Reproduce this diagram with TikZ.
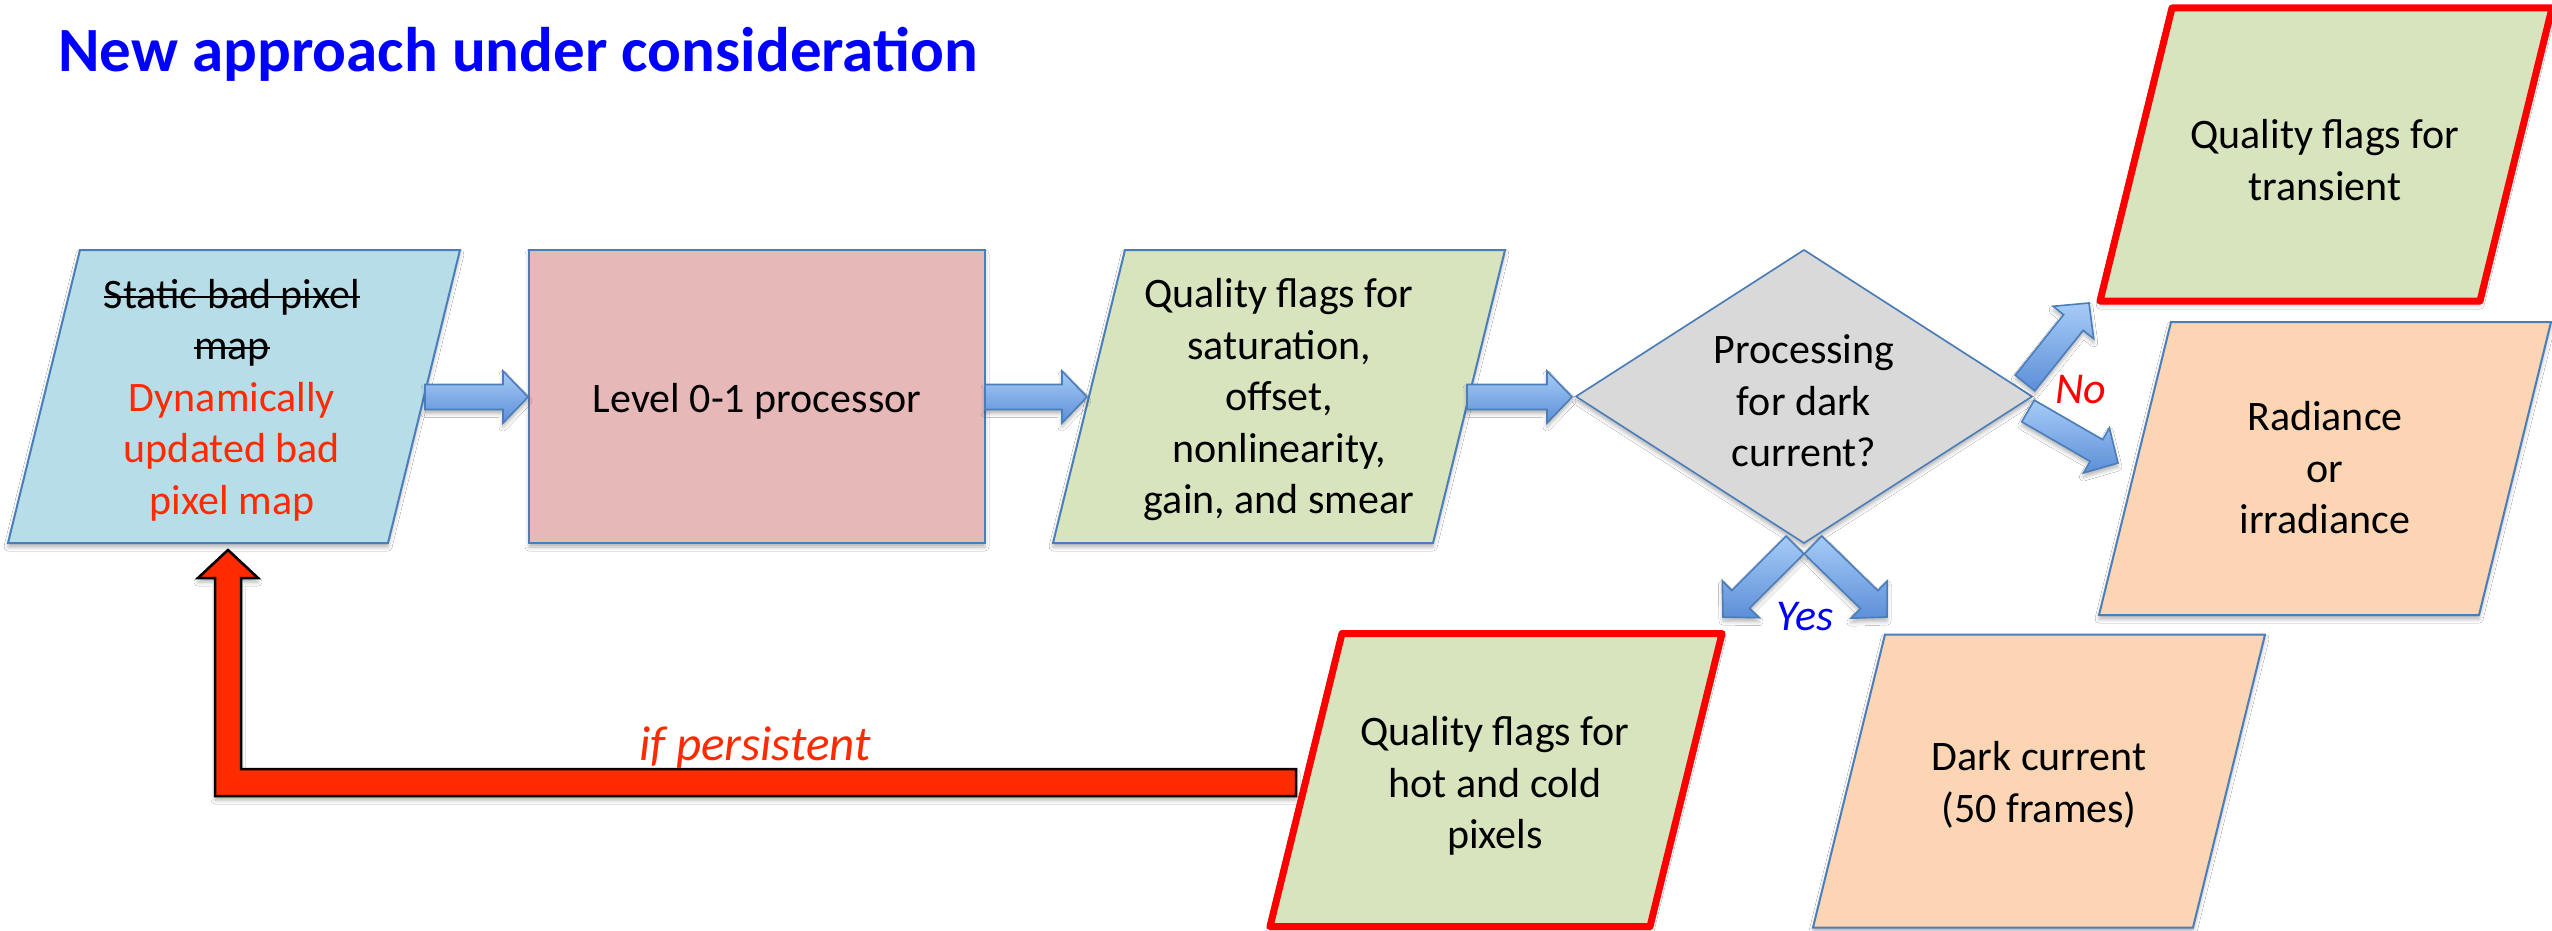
\documentclass[tikz,border=0pt]{standalone}
\usepackage{fontspec}
\setmainfont{Carlito}
\usetikzlibrary{calc,shadows.blur}

% struck-out text
\newsavebox{\strikebox}
\newcommand{\strikeout}[1]{\sbox{\strikebox}{#1}%
  \rlap{\rule[0.25em]{\wd\strikebox}{2.2pt}}\usebox{\strikebox}}

\definecolor{edgeblue}{HTML}{4A7EBB}
\definecolor{paraBlue}{HTML}{B7DEE8}
\definecolor{procPink}{HTML}{E6B9B8}
\definecolor{flagGreen}{HTML}{D7E4BD}
\definecolor{decGrey}{HTML}{D9D9D9}
\definecolor{outPeach}{HTML}{FCD5B5}
\definecolor{alertRed}{HTML}{FF0000}
\definecolor{loopRed}{HTML}{FF2A00}
\definecolor{titleBlue}{HTML}{0000FF}
\definecolor{arrowTop}{HTML}{A6CBF6}
\definecolor{arrowBot}{HTML}{5D8FD8}

\tikzset{
  softshadow/.style={blur shadow={shadow xshift=0pt,shadow yshift=-4pt,shadow blur radius=4pt,shadow opacity=30}},
  boxedge/.style={draw=edgeblue,line width=2pt,line join=miter,softshadow},
  flagedge/.style={draw=alertRed,line width=7pt,line join=round,softshadow},
  bluearrow/.style={draw=edgeblue,line width=1.6pt,line join=miter,top color=arrowTop,bottom color=arrowBot,softshadow},
  redarrow/.style={draw=black,line width=2.5pt,line join=miter,fill=loopRed,softshadow},
  body/.style={font=\fontsize{42}{51.5}\selectfont,align=center,inner sep=0pt},
  answer/.style={font=\fontsize{44}{50}\selectfont\itshape,inner sep=0pt,anchor=base},
}

% slanted data box (380 wide, 293 high, 72 slant) centred on a named coordinate
\newcommand{\slantbox}[4][]{%
  \coordinate (#2) at (#3,#4);
  \path[#1] ($(#2)+(-154,-146.5)$) -- ($(#2)+(226,-146.5)$)
     -- ($(#2)+(154,146.5)$) -- ($(#2)+(-226,146.5)$) -- cycle;}

% fat flowchart arrow from a tail coordinate to a tip coordinate
\newcommand{\blockarrow}[2]{%
  \coordinate (#1-hb) at ($(#2)!25pt!(#1)$);
  \draw[bluearrow] ($(#1)!12.5pt!90:(#2)$) -- ($(#1-hb)!12.5pt!90:(#2)$)
     -- ($(#1-hb)!26pt!90:(#2)$) -- (#2) -- ($(#1-hb)!26pt!-90:(#2)$)
     -- ($(#1-hb)!12.5pt!-90:(#2)$) -- ($(#1)!12.5pt!-90:(#2)$) -- cycle;}

\begin{document}
\begin{tikzpicture}[x=1pt,y=-1pt]
\useasboundingbox (0,0) rectangle (2552,931);
\fill[white] (0,0) rectangle (2552,931);

% title
\node[anchor=base west,inner sep=0pt,text=titleBlue,
      font=\fontsize{63}{70}\selectfont\bfseries] (title) at (58,72)
      {New approach under consideration};

% feedback loop for persistent hot/cold pixels
\coordinate (loopTip) at (228,550);
\coordinate (loopEnd) at (1296,782.5);
\path[redarrow] (loopTip) -- (258,578) -- (241,578) -- (241,769)
   -- (loopEnd |- 0,769) -- (loopEnd |- 0,796) -- (215,796) -- (215,578)
   -- (198,578) -- cycle;
\node[font=\fontsize{49}{54}\selectfont\itshape,text=loopRed,anchor=base,
      inner sep=0pt] (persist) at (755,760) {if persistent};

% boxes
\slantbox[boxedge,fill=paraBlue]{badmapBox}{234}{396.5}
\path[boxedge,fill=procPink] (529,250) rectangle (985,543);
\coordinate (procBox) at (757,396.5);
\slantbox[boxedge,fill=flagGreen]{flagBox}{1279}{396.5}
\path[boxedge,fill=decGrey,line width=1.6pt] (1576,396.5) -- (1804,250)
   -- (2032,396.5) -- (1804,543) -- cycle;
\coordinate (darkQ) at (1804,396.5);
\slantbox[flagedge,fill=flagGreen]{transBox}{2326}{154.5}
\slantbox[boxedge,fill=outPeach]{radBox}{2325}{468.5}
\slantbox[boxedge,fill=outPeach]{darkBox}{2039}{781}
\slantbox[flagedge,fill=flagGreen]{hotBox}{1496}{780}

% texts
\node[body] (badmap) at (232,400) {\strikeout{Static bad pixel}\\\strikeout{map}\\
  \textcolor{loopRed}{Dynamically}\\\textcolor{loopRed}{updated bad}\\
  \textcolor{loopRed}{pixel map}};
\node[body] (proc) at (757,401) {Level 0-1 processor};
\node[body] (flags) at (1279,400) {Quality flags for\\saturation,\\offset,\\
  nonlinearity,\\gain, and smear};
\node[body] (question) at (1804,401) {Processing\\for dark\\current?};
\node[body] (trans) at (2325,160) {Quality flags for\\transient};
\node[body] (rad) at (2325,468) {Radiance\\or\\irradiance};
\node[body] (dark) at (2039,785) {Dark current\\(50 frames)};
\node[body] (hot) at (1495,786) {Quality flags for\\hot and cold\\pixels};

% main flow arrows
\coordinate (a1s) at (425,397);   \coordinate (a1e) at (528,397);
\coordinate (a2s) at (985,397);   \coordinate (a2e) at (1087,397);
\coordinate (a3s) at (1467,397);  \coordinate (a3e) at (1572,397);
\blockarrow{a1s}{a1e}
\blockarrow{a2s}{a2e}
\blockarrow{a3s}{a3e}

% decision branches
\coordinate (ysL) at (1795,545);  \coordinate (yeL) at (1723,617);
\coordinate (ysR) at (1813,545);  \coordinate (yeR) at (1887,617);
\coordinate (nsU) at (2025,383);  \coordinate (neU) at (2089,303);
\coordinate (nsD) at (2028,411);  \coordinate (neD) at (2118,463);
\blockarrow{ysL}{yeL}
\blockarrow{ysR}{yeR}
\blockarrow{nsU}{neU}
\blockarrow{nsD}{neD}

\node[answer,text=titleBlue] (yes) at (1805,630) {Yes};
\node[answer,text=alertRed] (no) at (2081,403) {No};
\end{tikzpicture}
\end{document}
